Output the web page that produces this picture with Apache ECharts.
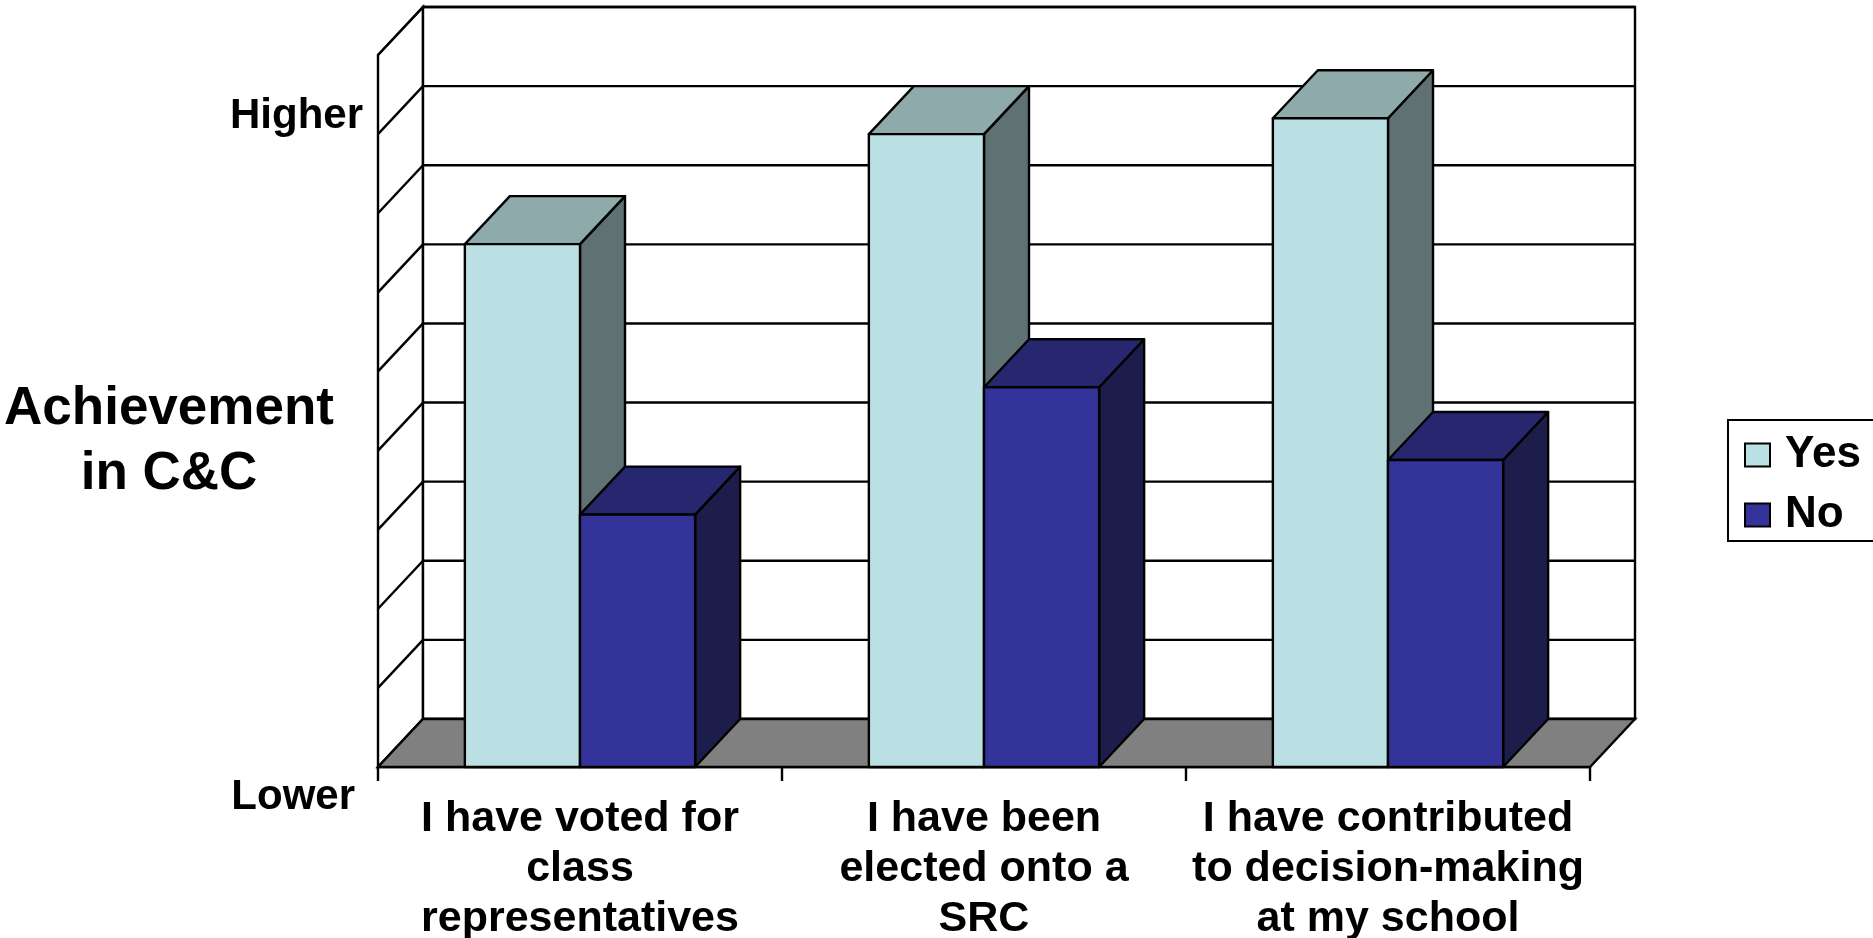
<!DOCTYPE html>
<html>
<head>
<meta charset="utf-8">
<title>Achievement in C&amp;C</title>
<script src="https://cdn.jsdelivr.net/npm/echarts@6.0.0/dist/echarts.min.js"></script>
<style>
  html, body { margin: 0; padding: 0; background: #fff; }
  #chart { width: 1873px; height: 938px; }
</style>
</head>
<body>
<div id="chart"></div>
<script>
// values, in gridline units (0 = Lower ... 9 = top of wall)
const categories = [
  "I have voted for\nclass\nrepresentatives",
  "I have been\nelected onto a\nSRC",
  "I have contributed\nto decision-making\nat my school"
];
const yesValues = [6.61, 8.0, 8.2];
const noValues = [3.19, 4.8, 3.88];
const gridTicks = [0, 1, 2, 3, 4, 5, 6, 7, 8, 9];
const scaleLabels = ["Lower", "Higher"];
const axisTitle = "Achievement\nin C&C";

const FONT = '"Liberation Sans", Arial, sans-serif';
const DX = 45;   // depth offset of the 3d box
const DY = 48;
const BAR_RATIO = 0.285; // bar width as part of the category band
const LW = 2.4;

// walls, floor and gridlines
function renderFrame(params, api) {
  const cs = params.coordSys;
  const x0 = cs.x, x1 = cs.x + cs.width;
  const yB = api.coord([0, gridTicks[0]])[1];
  const yT = api.coord([0, gridTicks[gridTicks.length - 1]])[1];
  const line = { stroke: "#000", lineWidth: LW };
  const children = [];
  children.push({
    type: "polygon",
    shape: { points: [[x0, yT], [x0 + DX, yT - DY], [x0 + DX, yB - DY], [x0, yB]] },
    style: { fill: "#fff", stroke: "#000", lineWidth: LW }
  });
  children.push({
    type: "rect",
    shape: { x: x0 + DX, y: yT - DY, width: x1 - x0, height: yB - yT },
    style: { fill: "#fff", stroke: "#000", lineWidth: LW }
  });
  gridTicks.forEach(function (t) {
    const y = api.coord([0, t])[1];
    children.push({ type: "line", shape: { x1: x0 + DX, y1: y - DY, x2: x1 + DX, y2: y - DY }, style: line });
    children.push({ type: "line", shape: { x1: x0, y1: y, x2: x0 + DX, y2: y - DY }, style: line });
  });
  // floor
  children.push({
    type: "polygon",
    shape: { points: [[x0, yB], [x1, yB], [x1 + DX, yB - DY], [x0 + DX, yB - DY]] },
    style: { fill: "#808080", stroke: "#000", lineWidth: LW }
  });
  return { type: "group", children: children };
}

// one 3d column: front face, right side, top
function barRenderer(leftOfCenter, front, top, side) {
  return function (params, api) {
    const p = api.coord([api.value(0), api.value(1)]);
    const b = api.coord([api.value(0), 0]);
    const w = api.size([1, 0])[0] * BAR_RATIO;
    const x = leftOfCenter ? p[0] - w : p[0];
    const yT = p[1], yB = b[1];
    const st = { stroke: "#000", lineWidth: LW, lineJoin: "round" };
    return {
      type: "group",
      children: [
        { type: "polygon", shape: { points: [[x + w, yT], [x + w + DX, yT - DY], [x + w + DX, yB - DY], [x + w, yB]] },
          style: Object.assign({ fill: side }, st) },
        { type: "polygon", shape: { points: [[x, yT], [x + w, yT], [x + w + DX, yT - DY], [x + DX, yT - DY]] },
          style: Object.assign({ fill: top }, st) },
        { type: "rect", shape: { x: x, y: yT, width: w, height: yB - yT },
          style: Object.assign({ fill: front }, st) }
      ]
    };
  };
}

const chart = echarts.init(document.getElementById("chart"));
chart.setOption({
  animation: false,
  backgroundColor: "#fff",
  grid: {
    left: 378,
    right: 283,
    top: 55,
    bottom: 171,
    containLabel: false,
    outerBoundsMode: "none"
  },
  xAxis: {
    type: "category",
    data: categories,
    axisLine: { show: true, lineStyle: { color: "#000", width: LW } },
    axisTick: { show: true, length: 14, lineStyle: { color: "#000", width: LW } },
    axisLabel: {
      interval: 0,
      margin: 27,
      fontSize: 43,
      fontWeight: "bold",
      fontFamily: FONT,
      color: "#000",
      lineHeight: 50,
      align: "center"
    },
    splitLine: { show: false }
  },
  yAxis: {
    type: "value",
    min: 0,
    max: 9,
    interval: 1,
    show: false
  },
  legend: {
    data: ["Yes", "No"],
    orient: "vertical",
    left: 1728,
    top: 420,
    icon: "rect",
    selectedMode: false,
    itemWidth: 25,
    itemHeight: 23,
    itemGap: 16,
    padding: [13, 30, 4, 16],
    borderColor: "#000",
    borderWidth: 2,
    itemStyle: { borderColor: "#000", borderWidth: 2 },
    textStyle: {
      fontSize: 44,
      fontWeight: "bold",
      fontFamily: FONT,
      color: "#000",
      padding: [0, 0, 0, 10]
    }
  },
  graphic: [
    {
      type: "text", x: 363, y: 116,
      style: { text: scaleLabels[1], fontSize: 42, fontWeight: "bold", fontFamily: FONT, fill: "#000", align: "right", verticalAlign: "middle" }
    },
    {
      type: "text", x: 355, y: 797,
      style: { text: scaleLabels[0], fontSize: 42, fontWeight: "bold", fontFamily: FONT, fill: "#000", align: "right", verticalAlign: "middle" }
    },
    {
      type: "text", x: 169, y: 442,
      style: { text: axisTitle, fontSize: 53, fontWeight: "bold", fontFamily: FONT, fill: "#000", align: "center", verticalAlign: "middle", lineHeight: 65 }
    }
  ],
  series: [
    {
      name: "frame",
      type: "custom",
      z: 1,
      silent: true,
      data: [[0, 0]],
      renderItem: renderFrame
    },
    {
      name: "Yes",
      type: "custom",
      z: 2,
      itemStyle: { color: "#BBE0E3" },
      data: yesValues.map(function (v, i) { return [i, v]; }),
      encode: { x: 0, y: 1 },
      renderItem: barRenderer(true, "#BBE0E3", "#8FAAAB", "#5F7172")
    },
    {
      name: "No",
      type: "custom",
      z: 3,
      itemStyle: { color: "#333399" },
      data: noValues.map(function (v, i) { return [i, v]; }),
      encode: { x: 0, y: 1 },
      renderItem: barRenderer(false, "#333399", "#272770", "#1D1D4B")
    }
  ]
});
window.addEventListener("resize", function () { chart.resize(); });
</script>
</body>
</html>
